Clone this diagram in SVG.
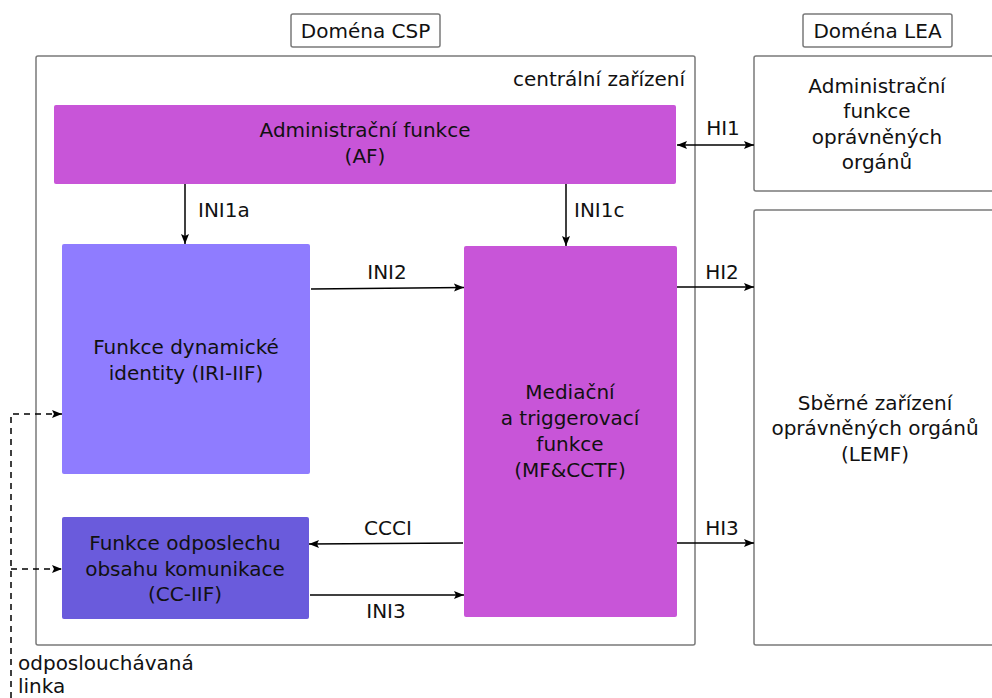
<svg xmlns="http://www.w3.org/2000/svg" width="992" height="698" viewBox="0 0 992 698">
  <style>
    text { font-family: "DejaVu Sans", "Noto Sans", sans-serif; font-size: 20px; fill: #111; }
    .c { text-anchor: middle; }
    .frame { fill: #fff; stroke: #7a7a7a; stroke-width: 1.5; }
    .line { fill: none; stroke: #000; stroke-width: 1.5; }
    .dash { fill: none; stroke: #000; stroke-width: 1.5; stroke-dasharray: 6 5; }
  </style>
  <defs>
    <marker id="arr" viewBox="0 0 10 10" refX="10" refY="5" markerWidth="10" markerHeight="10" markerUnits="userSpaceOnUse" orient="auto-start-reverse">
      <path d="M0,1 L10,5 L0,9 L2,5 Z" fill="#000"/>
    </marker>
  </defs>
  <rect width="992" height="698" fill="#fff"/>

  <!-- domain labels -->
  <g id="domain-csp">
    <rect class="frame" x="291" y="14" width="149" height="33" rx="2"/>
    <text class="c" x="365.5" y="38">Doména CSP</text>
  </g>
  <g id="domain-lea">
    <rect class="frame" x="803" y="14" width="149" height="33" rx="2"/>
    <text class="c" x="877.5" y="38">Doména LEA</text>
  </g>

  <!-- central facility container -->
  <g id="central">
    <rect class="frame" x="36" y="56" width="659" height="589" rx="2"/>
    <text x="685" y="86" text-anchor="end">centrální zařízení</text>
  </g>

  <g id="af">
    <rect x="54" y="105" width="622" height="79" rx="2" fill="#c855d8"/>
    <text class="c" x="365" y="137">Administrační funkce</text>
    <text class="c" x="365" y="163">(AF)</text>
  </g>

  <g id="iri-iif">
    <rect x="62" y="244" width="248" height="230" rx="2" fill="#8f7cff"/>
    <text class="c" x="186" y="354">Funkce dynamické</text>
    <text class="c" x="186" y="380">identity (IRI-IIF)</text>
  </g>

  <g id="cc-iif">
    <rect x="62" y="517" width="247" height="102" rx="2" fill="#6a5bdc"/>
    <text class="c" x="185" y="550">Funkce odposlechu</text>
    <text class="c" x="185" y="576">obsahu komunikace</text>
    <text class="c" x="185" y="601">(CC-IIF)</text>
  </g>

  <g id="mf-cctf">
    <rect x="464" y="246" width="213" height="371" rx="2" fill="#c855d8"/>
    <text class="c" x="570" y="399">Mediační</text>
    <text class="c" x="570" y="425">a triggerovací</text>
    <text class="c" x="570" y="451">funkce</text>
    <text class="c" x="570" y="477">(MF&amp;CCTF)</text>
  </g>

  <g id="lea-af">
    <rect class="frame" x="754" y="56" width="250" height="135" rx="2"/>
    <text class="c" x="877" y="93">Administrační</text>
    <text class="c" x="877" y="118">funkce</text>
    <text class="c" x="877" y="144">oprávněných</text>
    <text class="c" x="877" y="169">orgánů</text>
  </g>

  <g id="lemf">
    <rect class="frame" x="754" y="210" width="250" height="435" rx="2"/>
    <text class="c" x="875" y="410">Sběrné zařízení</text>
    <text class="c" x="875" y="435">oprávněných orgánů</text>
    <text class="c" x="875" y="461">(LEMF)</text>
  </g>

  <!-- interfaces -->
  <g id="connectors">
    <path class="line" d="M185,184 V244" marker-end="url(#arr)"/>
    <text x="198" y="217">INI1a</text>
    <path class="line" d="M566,184 V246" marker-end="url(#arr)"/>
    <text x="574" y="217">INI1c</text>

    <path class="line" d="M311,289 L464,287.5" marker-end="url(#arr)"/>
    <text class="c" x="387" y="279">INI2</text>

    <path class="line" d="M463,543 L309,544" marker-end="url(#arr)"/>
    <text class="c" x="388" y="535">CCCI</text>

    <path class="line" d="M310,595 H464" marker-end="url(#arr)"/>
    <text class="c" x="386" y="618">INI3</text>

    <path class="line" d="M677,145 H754" marker-start="url(#arr)" marker-end="url(#arr)"/>
    <text class="c" x="723" y="135">HI1</text>

    <path class="line" d="M677,287 H754" marker-end="url(#arr)"/>
    <text class="c" x="722" y="279">HI2</text>

    <path class="line" d="M677,543 H754" marker-end="url(#arr)"/>
    <text class="c" x="722" y="535">HI3</text>

    <!-- tapped line feeding both IIFs -->
    <path class="dash" d="M11,698 V414 H62" marker-end="url(#arr)"/>
    <path class="dash" d="M11,569 H62" marker-end="url(#arr)"/>
    <text x="18" y="670">odposlouchávaná</text>
    <text x="18" y="693">linka</text>
  </g>
</svg>
